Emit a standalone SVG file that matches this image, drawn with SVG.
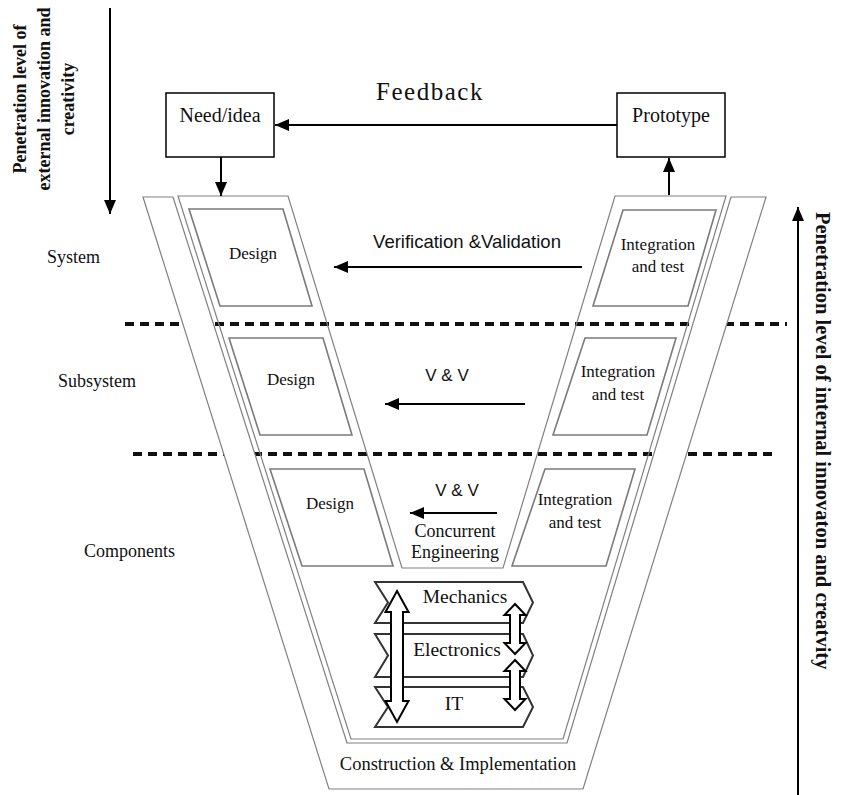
<svg xmlns="http://www.w3.org/2000/svg" width="841" height="795" viewBox="0 0 841 795">
  <defs>
    <marker id="ahBig" viewBox="0 0 14 12" refX="14" refY="6" markerWidth="14" markerHeight="12" markerUnits="userSpaceOnUse" orient="auto">
      <path d="M0,0 L14,6 L0,12 z" fill="#000"/>
    </marker>
    <style>
      .serif { font-family: "Liberation Serif", "Times New Roman", serif; fill: #111; }
      .sans { font-family: "Liberation Sans", Arial, sans-serif; fill: #111; }
      .bold { font-weight: bold; }
      .mid { text-anchor: middle; }
      .dash { stroke: #111; stroke-width: 4; stroke-dasharray: 9 6; fill: none; }
      .outer { fill: #fff; stroke: #808080; stroke-width: 1.2; }
      .frame { fill: none; stroke: #808080; stroke-width: 1.2; }
      .panel { fill: #fff; stroke: #7a7a7a; stroke-width: 1.6; }
      .box { fill: #fff; stroke: #000; stroke-width: 1.5; }
      .conn { stroke: #000; stroke-width: 2; fill: none; marker-end: url(#ahBig); }
      .band { fill: #fff; stroke: #333; stroke-width: 2; }
      .blk { fill: #fff; stroke: #000; stroke-width: 2; stroke-linejoin: miter; }
    </style>
  </defs>

  <!-- level separators -->
  <g id="levels">
    <line class="dash" x1="125" y1="324" x2="787" y2="324"/>
    <line class="dash" x1="133" y1="454" x2="777" y2="454"/>
  </g>

  <!-- outer V band: construction & implementation -->
  <g id="outer-band">
    <path class="outer" d="M143,197 L173,197 L347,743 L567,743 L731,197 L766,197 L583,789 L329,789 Z"/>
    <text class="serif mid" x="458" y="770" font-size="18.5">Construction &amp; Implementation</text>
  </g>

  <!-- inner V band -->
  <g id="inner-band">
    <path class="frame" d="M178,196 L288,196 L402,568 L503,568 L615,196 L726,196 L563,739 L351,739 Z"/>
  </g>

  <!-- design panels (left arm) -->
  <g id="design-system">
    <path class="panel" d="M189,209 L283,209 L312,306 L220,306 Z"/>
    <text class="serif mid" x="253" y="259" font-size="17">Design</text>
  </g>
  <g id="design-subsystem">
    <path class="panel" d="M229,338 L323,338 L352,435 L260,435 Z"/>
    <text class="serif mid" x="291" y="385" font-size="17">Design</text>
  </g>
  <g id="design-components">
    <path class="panel" d="M270,469 L364,469 L393,566 L302,566 Z"/>
    <text class="serif mid" x="330" y="509" font-size="17">Design</text>
  </g>

  <!-- integration panels (right arm) -->
  <g id="integration-system">
    <path class="panel" d="M623,210 L716,210 L688,306 L593,306 Z"/>
    <text class="serif mid" x="658" y="250" font-size="17">Integration</text>
    <text class="serif mid" x="658" y="272" font-size="17">and test</text>
  </g>
  <g id="integration-subsystem">
    <path class="panel" d="M585,338 L676,338 L647,435 L553,435 Z"/>
    <text class="serif mid" x="618" y="377" font-size="17">Integration</text>
    <text class="serif mid" x="618" y="400" font-size="17">and test</text>
  </g>
  <g id="integration-components">
    <path class="panel" d="M545,469 L635,469 L606,566 L512,566 Z"/>
    <text class="serif mid" x="575" y="505" font-size="17">Integration</text>
    <text class="serif mid" x="575" y="528" font-size="17">and test</text>
  </g>

  <!-- top boxes -->
  <g id="need-idea">
    <rect class="box" x="166" y="93" width="108" height="64"/>
    <text class="serif mid" x="220" y="122" font-size="20">Need/idea</text>
  </g>
  <g id="prototype">
    <rect class="box" x="617" y="93" width="108" height="64"/>
    <text class="serif mid" x="671" y="122" font-size="20">Prototype</text>
  </g>

  <!-- discipline bands -->
  <g id="mechanics">
    <path class="band" d="M375,582 L523,582 L533,602.5 L523,623 L375,623 L388,602.5 Z"/>
    <text class="serif mid" x="465" y="603" font-size="19.5">Mechanics</text>
  </g>
  <g id="electronics">
    <path class="band" d="M375,634 L523,634 L533,655.5 L523,677 L375,677 L388,655.5 Z"/>
    <text class="serif mid" x="457" y="656" font-size="19.5">Electronics</text>
  </g>
  <g id="it">
    <path class="band" d="M375,687 L523,687 L533,707 L523,727 L375,727 L388,707 Z"/>
    <text class="serif mid" x="454" y="710" font-size="19.5">IT</text>
  </g>

  <!-- block double arrows between disciplines -->
  <g id="discipline-links">
    <path class="blk" d="M397,591 L408.5,612 L403,612 L403,701 L408.5,701 L397,722 L385.5,701 L391,701 L391,612 L385.5,612 Z"/>
    <path class="blk" d="M515,604 L525.5,615 L520,615 L520,643 L525.5,643 L515,654 L504.5,643 L510,643 L510,615 L504.5,615 Z"/>
    <path class="blk" d="M515,660 L525.5,671 L520,671 L520,699 L525.5,699 L515,710 L504.5,699 L510,699 L510,671 L504.5,671 Z"/>
  </g>

  <!-- level labels -->
  <g id="level-labels">
    <text class="serif" x="47" y="263" font-size="18">System</text>
    <text class="serif" x="58" y="387" font-size="18">Subsystem</text>
    <text class="serif" x="84" y="557" font-size="18">Components</text>
  </g>

  <!-- connectors -->
  <g id="connectors">
    <line class="conn" x1="617" y1="125" x2="275" y2="125"/>
    <line class="conn" x1="221" y1="157" x2="221" y2="196"/>
    <line class="conn" x1="669" y1="195" x2="669" y2="158"/>
    <line class="conn" x1="582" y1="267" x2="334" y2="267"/>
    <line class="conn" x1="525" y1="404" x2="385" y2="404"/>
    <line class="conn" x1="497" y1="513" x2="410" y2="513"/>
    <line class="conn" x1="110" y1="8" x2="110" y2="214"/>
    <line class="conn" x1="798" y1="795" x2="798" y2="207"/>
  </g>

  <!-- connector labels -->
  <g id="connector-labels">
    <text class="serif mid" x="430" y="100" font-size="25" letter-spacing="1.5">Feedback</text>
    <text class="sans mid" x="467" y="248" font-size="18.5">Verification &amp;Validation</text>
    <text class="sans mid" x="447" y="381" font-size="17">V &amp; V</text>
    <text class="sans mid" x="457" y="496" font-size="17">V &amp; V</text>
    <text class="serif mid" x="455" y="537" font-size="18">Concurrent</text>
    <text class="serif mid" x="455" y="558" font-size="18">Engineering</text>
  </g>

  <!-- axis captions -->
  <g id="axis-labels">
    <g transform="rotate(-90)">
      <text class="serif bold mid" x="-99" y="26" font-size="18">Penetration level of</text>
      <text class="serif bold mid" x="-99" y="50" font-size="18">external innovation and</text>
      <text class="serif bold mid" x="-99" y="74" font-size="18">creativity</text>
    </g>
    <g transform="rotate(90)">
      <text class="serif bold" x="212" y="-816" font-size="20.5">Penetration level of internal innovaton and creatvity</text>
    </g>
  </g>
</svg>
